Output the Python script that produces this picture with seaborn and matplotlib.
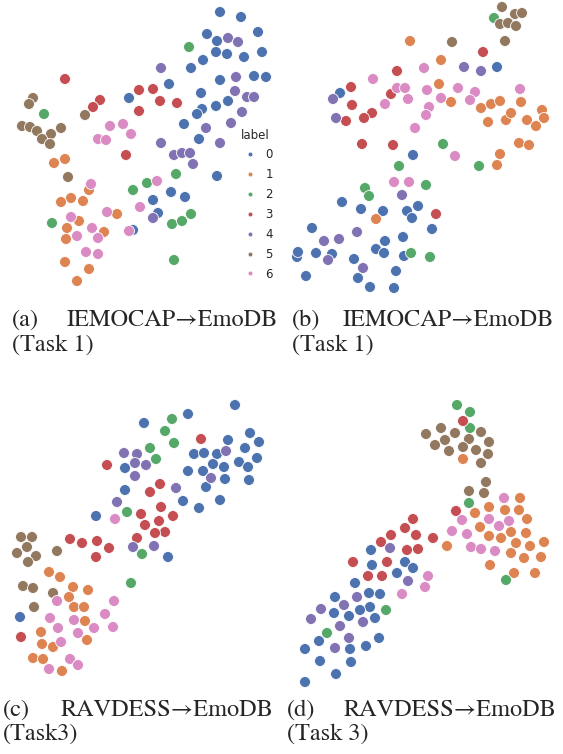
import matplotlib
matplotlib.use("Agg")
import matplotlib.pyplot as plt
import seaborn as sns
import pandas as pd

# t-SNE embeddings, one dict per panel: label -> [(x, y), ...]
PANEL_A = {
    0: [(220, 12), (241, 17), (207, 34), (217, 41), (258, 32), (262, 52), (216, 52), (227, 54),
        (203, 60), (244, 57), (191, 68), (220, 80), (254, 76), (266, 77), (169, 84), (201, 93),
        (129, 98), (228, 101), (216, 106), (202, 109), (197, 114), (184, 124), (199, 139),
        (217, 176), (171, 192), (185, 197), (153, 200), (158, 213), (133, 230)],
    1: [(54, 163), (65, 159), (89, 190), (71, 198), (61, 202), (83, 201), (117, 214), (79, 221),
        (67, 228), (104, 232), (66, 239), (65, 262), (89, 269), (77, 281)],
    2: [(189, 47), (44, 114), (176, 174), (147, 183), (133, 190), (52, 223), (172, 224),
        (182, 221), (191, 214), (174, 260)],
    3: [(65, 79), (100, 100), (93, 107), (139, 90), (153, 89), (160, 101), (139, 111),
        (177, 103), (126, 155)],
    4: [(228, 38), (238, 42), (161, 68), (236, 77), (235, 91), (247, 97), (254, 97), (242, 112),
        (231, 123), (206, 128), (220, 143), (161, 143), (174, 155), (182, 153), (190, 153),
        (193, 164), (153, 218)],
    5: [(33, 98), (29, 104), (85, 115), (22, 126), (30, 127), (37, 131), (61, 128), (51, 134),
        (42, 139), (50, 144), (68, 177)],
    6: [(123, 124), (110, 126), (131, 134), (98, 139), (106, 140), (91, 184), (157, 181),
        (140, 207), (107, 212), (71, 217), (92, 228), (129, 231), (77, 236), (98, 238),
        (86, 252), (98, 254)],
}

PANEL_B = {
    0: [(340, 93), (497, 67), (413, 155), (342, 202), (361, 209), (383, 211), (407, 211),
        (418, 206), (412, 218), (312, 228), (432, 229), (385, 241), (403, 237), (376, 249),
        (384, 253), (316, 253), (332, 254), (297, 257), (298, 252), (354, 259), (404, 256),
        (306, 276), (358, 278), (396, 271), (370, 287), (394, 288)],
    1: [(410, 41), (441, 60), (439, 84), (451, 102), (481, 108), (491, 104), (500, 101),
        (521, 102), (488, 122), (506, 120), (511, 113), (542, 110), (544, 118), (527, 120),
        (536, 126), (519, 143), (529, 145), (500, 154), (497, 165), (376, 219)],
    2: [(494, 18), (443, 144), (399, 166), (479, 166), (426, 185), (365, 188), (369, 196),
        (411, 253), (430, 257)],
    3: [(483, 52), (397, 71), (351, 87), (352, 105), (391, 94), (372, 113), (364, 118),
        (346, 121), (362, 144), (393, 145), (436, 214)],
    4: [(464, 67), (481, 71), (333, 99), (336, 118), (402, 195), (324, 241), (339, 239),
        (357, 232), (328, 260), (363, 268)],
    5: [(502, 7), (515, 14), (522, 13), (500, 24), (508, 23), (516, 26), (505, 41), (452, 42)],
    6: [(373, 79), (424, 68), (397, 88), (405, 88), (408, 99), (385, 104), (427, 90),
        (429, 107), (426, 115), (441, 98), (458, 88), (475, 92), (470, 100), (520, 89),
        (415, 128), (455, 156), (394, 182), (409, 182)],
}

PANEL_C = {
    0: [(235, 405), (188, 414), (144, 423), (250, 433), (259, 442), (228, 440), (245, 448),
        (194, 454), (204, 453), (217, 454), (213, 464), (239, 462), (257, 458), (248, 467),
        (224, 467), (203, 471), (188, 471), (225, 479), (249, 480), (206, 487), (125, 468),
        (125, 490), (183, 501), (199, 508), (220, 500), (96, 516), (168, 557), (20, 617)],
    1: [(49, 572), (60, 577), (73, 587), (88, 590), (69, 597), (74, 607), (84, 607), (85, 621),
        (87, 640), (41, 632), (42, 644), (53, 647), (33, 658), (43, 659), (62, 671)],
    2: [(172, 419), (165, 431), (174, 443), (150, 448), (156, 459), (127, 512), (142, 554),
        (131, 583)],
    3: [(201, 439), (107, 465), (160, 484), (150, 492), (161, 507), (141, 514), (173, 516),
        (159, 521), (145, 525), (165, 532), (155, 533), (137, 538), (70, 539), (82, 543),
        (97, 541), (109, 548), (96, 557), (21, 637)],
    4: [(124, 453), (137, 454), (135, 463), (146, 465), (135, 476), (226, 451), (211, 478),
        (176, 488), (117, 502), (133, 547), (154, 546)],
    5: [(21, 537), (32, 537), (27, 547), (17, 553), (36, 556), (28, 562), (57, 551), (23, 586),
        (33, 588), (53, 593), (34, 607)],
    6: [(115, 519), (114, 601), (105, 614), (113, 627), (57, 601), (50, 618), (58, 628),
        (74, 620), (78, 633), (94, 628), (61, 642), (70, 659), (78, 665), (49, 669)],
}

PANEL_D = {
    0: [(371, 550), (372, 565), (405, 562), (413, 568), (397, 573), (355, 583), (369, 593),
        (380, 594), (335, 597), (370, 607), (360, 610), (334, 613), (349, 616), (375, 618),
        (305, 649), (319, 641), (350, 649), (366, 646), (379, 638), (320, 661), (351, 662),
        (336, 674), (305, 682)],
    1: [(463, 459), (520, 498), (489, 507), (475, 513), (505, 510), (519, 510), (527, 519),
        (480, 527), (511, 532), (526, 533), (489, 536), (501, 538), (516, 543), (530, 546),
        (544, 542), (447, 546), (511, 553), (524, 558), (541, 557), (490, 565), (514, 573),
        (535, 573)],
    2: [(457, 405), (470, 412), (470, 428), (469, 503), (506, 580), (386, 610), (327, 633)],
    3: [(463, 421), (456, 511), (413, 519), (405, 528), (391, 535), (381, 542), (416, 535),
        (433, 538), (407, 550), (418, 549), (387, 562), (353, 562), (368, 576), (382, 576)],
    4: [(390, 548), (408, 581), (357, 597), (344, 605), (321, 609), (311, 619), (363, 622),
        (340, 626), (349, 638), (335, 648)],
    5: [(426, 434), (441, 428), (455, 433), (445, 440), (435, 445), (449, 451), (469, 439),
        (481, 432), (489, 442), (476, 450), (488, 454), (481, 463), (463, 447), (486, 482),
        (469, 491), (484, 493)],
    6: [(504, 498), (462, 520), (489, 519), (499, 526), (509, 521), (452, 531), (467, 534),
        (471, 547), (481, 549), (495, 551), (428, 576), (425, 587), (402, 594)],
}

CAPTIONS = [
    ("(a)", "IEMOCAP\u2192EmoDB", "(Task 1)"),
    ("(b)", "IEMOCAP\u2192EmoDB", "(Task 1)"),
    ("(c)", "RAVDESS\u2192EmoDB", "(Task3)"),
    ("(d)", "RAVDESS\u2192EmoDB", "(Task 3)"),
]

W, H = 563, 754
sns.set_theme(style="white", palette="deep")
plt.rcParams["font.family"] = ["DejaVu Sans"]

fig = plt.figure(figsize=(W / 100, H / 100), dpi=100)


def px_axes(x0, y0, x1, y1):
    ax = fig.add_axes([x0 / W, 1 - y1 / H, (x1 - x0) / W, (y1 - y0) / H])
    ax.set_xlim(x0, x1)
    ax.set_ylim(y1, y0)
    ax.set_axis_off()
    return ax


def to_frame(panel):
    rows = [(x, y, lab) for lab, pts in panel.items() for x, y in pts]
    return pd.DataFrame(rows, columns=["x", "y", "label"])


regions = [(0, 0, 282, 290), (282, 0, 563, 300), (0, 360, 282, 690), (282, 400, 563, 700)]
panels = [PANEL_A, PANEL_B, PANEL_C, PANEL_D]

for i, (panel, reg) in enumerate(zip(panels, regions)):
    ax = px_axes(*reg)
    df = to_frame(panel)
    sns.scatterplot(data=df, x="x", y="y", hue="label", palette="deep", s=62,
                    edgecolor="white", linewidth=0.6, legend=(i == 0), ax=ax, zorder=3)
    if i == 0:
        sns.move_legend(ax, "upper left", bbox_to_anchor=(0.815, 0.585), frameon=False,
                        title="label", fontsize=8.5, title_fontsize=8.5, markerscale=0.45,
                        labelspacing=0.58, handletextpad=0.3, borderpad=0.2)

# captions (STIX is a Times clone with a proper long arrow)
serif = ["STIXGeneral", "Liberation Serif", "DejaVu Serif"]
cap_pos = [
    (12, 278, 326, 351),
    (292, 554, 326, 351),
    (3, 273, 716, 740),
    (287, 556, 716, 740),
]
for (tag, title, task), (xl, xr, y1, y2) in zip(CAPTIONS, cap_pos):
    fig.text(xl / W, 1 - y1 / H, tag, family=serif, fontsize=17.5, ha="left", va="baseline")
    fig.text(xr / W, 1 - y1 / H, title, family=serif, fontsize=17.5, ha="right", va="baseline")
    fig.text(xl / W, 1 - y2 / H, task, family=serif, fontsize=17.5, ha="left", va="baseline")

fig.savefig("out.png", dpi=100)
